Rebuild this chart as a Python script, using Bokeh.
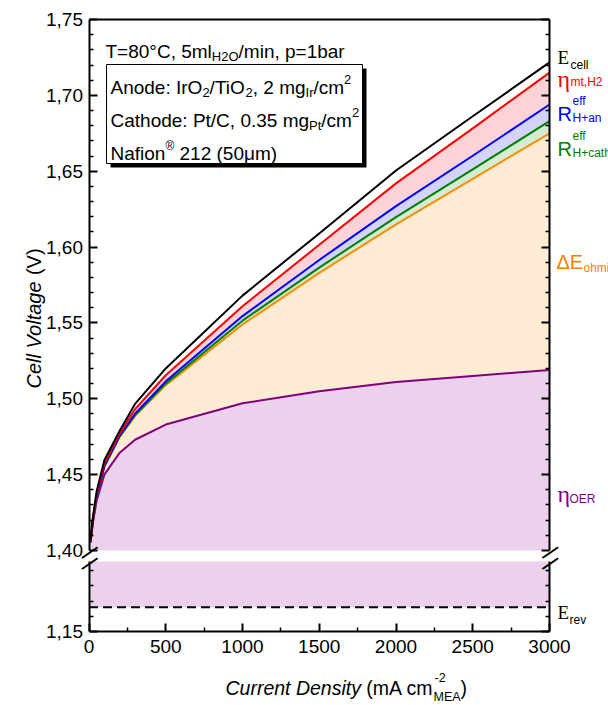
import math
from bokeh.plotting import figure
from bokeh.models import (Range1d, LinearAxis, FixedTicker, CustomJSTickFormatter,
                          Label, BoxAnnotation)
from bokeh.embed import file_html
from bokeh.resources import INLINE

# ---------------- data ----------------
current_density = [10, 25, 50, 100, 200, 300, 500, 1000, 1500, 2000, 2500, 3000]
v_oer    = [1.405, 1.418, 1.433, 1.450, 1.4645, 1.473, 1.483, 1.497, 1.505, 1.511, 1.515, 1.519]
v_ohmic  = [1.4055, 1.4193, 1.4356, 1.4552, 1.4749, 1.4886, 1.509, 1.549, 1.583, 1.615, 1.645, 1.675]
v_h_cath = [1.4055, 1.4193, 1.4357, 1.4554, 1.4752, 1.4892, 1.510, 1.5515, 1.5865, 1.6197, 1.6512, 1.683]
v_h_an   = [1.4055, 1.4194, 1.4359, 1.4557, 1.4757, 1.4901, 1.5115, 1.5545, 1.5915, 1.627, 1.6602, 1.694]
v_mt     = [1.406, 1.4204, 1.4374, 1.4575, 1.4772, 1.4931, 1.5155, 1.561, 1.6015, 1.642, 1.6782, 1.715]
v_cell   = [1.407, 1.4219, 1.4390, 1.4595, 1.4790, 1.4966, 1.520, 1.568, 1.609, 1.6505, 1.6862, 1.7217]
e_rev = 1.166

x_ticks = [0, 500, 1000, 1500, 2000, 2500, 3000]
x_minor = [250, 750, 1250, 1750, 2250, 2750]
y_ticks_top = [1.40, 1.45, 1.50, 1.55, 1.60, 1.65, 1.70, 1.75]
y_minor_top = [round(1.40 + 0.01 * i, 2) for i in range(36) if i % 5]
y_ticks_bot = [1.15]
y_minor_bot = [1.16, 1.17, 1.18, 1.19]

# ---------------- geometry (pixels of the page) ----------------
W, H = 608, 705
PX_L, PX_R = 88.5, 549.0          # x = 0 and x = 3000
PX_TOP, PX_BRK1 = 19.0, 550.0     # 1.75 and 1.40
PX_BRK2, PX_BOT = 561.0, 631.0    # upper end of lower segment and 1.15
X0, X1 = 0, 3000
Y1A, Y1B = 1.40, 1.75
Y2A = 1.15
VPP = (Y1B - Y1A) / (PX_BRK1 - PX_TOP)      # volts per pixel
Y2B = Y2A + (PX_BOT - PX_BRK2) * VPP        # top of lower segment

def xd(px):
    return X0 + (px - PX_L) / (PX_R - PX_L) * (X1 - X0)

def yt(py):
    return Y1B - (py - PX_TOP) * VPP

def yb(py):
    return Y2A + (PX_BOT - py) * VPP

FONT = "Liberation Sans"
SERIF = "Liberation Serif"
AR = {' ': 278, '(': 333, ')': 333, '+': 584, ',': 278, '-': 333, '.': 278, '/': 278,
      ':': 278, '=': 584, '°': 400, '®': 737, 'μ': 576, 'Δ': 668,
      'A': 667, 'C': 722, 'D': 722, 'E': 667, 'H': 722, 'I': 278, 'M': 833, 'N': 722,
      'O': 778, 'P': 667, 'R': 722, 'T': 611, 'V': 667,
      'a': 556, 'b': 556, 'c': 500, 'd': 556, 'e': 556, 'f': 278, 'g': 556, 'h': 556,
      'i': 222, 'l': 222, 'm': 833, 'n': 556, 'o': 556, 'p': 556, 'r': 333, 's': 500,
      't': 278, 'u': 556, 'v': 500, 'y': 500, 'k': 500}

def tw(s, size):
    return sum(AR.get(ch, 556) for ch in s) * size / 1000.0

p = figure(width=W, height=H, min_border=0, min_border_left=0, min_border_right=0,
           min_border_top=0, min_border_bottom=0,
           x_range=Range1d(xd(0), xd(W)), y_range=Range1d(yt(H), yt(0)),
           x_axis_type=None, y_axis_type=None, output_backend="svg",
           toolbar_location=None, outline_line_color=None,
           background_fill_color="white", border_fill_color="white")
p.extra_y_ranges = {"low": Range1d(yb(H), yb(0))}

def put(x, y, text, size, color="black", style="normal", font=FONT, angle=0.0,
        align="left", baseline="alphabetic"):
    # x, y in page pixels; leading blanks are turned into an advance (SVG drops them)
    stripped = text.lstrip(" ")
    adv = tw(text[:len(text) - len(stripped)], size)
    if angle == 0.0:
        x += adv
    else:
        y -= adv
    p.add_layout(Label(x=xd(x), y=yt(y), text=stripped, text_font=font,
                       text_font_size=f"{size}px", text_color=color,
                       text_font_style=style, text_baseline=baseline,
                       text_align=align, angle=angle))

def rich(x0, base, parts, color="black"):
    x = x0
    for txt, size, dy in parts:
        put(x, base + dy, txt, size, color)
        x += tw(txt, size)
    return x

def axis_style(ax, labels=True):
    ax.axis_line_width = 2
    ax.axis_line_color = "black"
    ax.major_tick_line_width = 2
    ax.minor_tick_line_width = 1.5
    ax.major_tick_in = 8
    ax.major_tick_out = 0
    ax.minor_tick_in = 4
    ax.minor_tick_out = 0
    ax.major_label_text_font = FONT
    ax.major_label_text_font_size = "19px"
    ax.major_label_text_color = "black"
    if not labels:
        ax.formatter = CustomJSTickFormatter(code="return '';")

comma_fmt = "return tick.toFixed(2).replace('.', ',');"

C_CELL, C_MT, C_AN, C_CATH, C_OHM, C_OER = "#000000", "#ff0000", "#0000ff", "#008000", "#ff8c00", "#800080"
F_MT, F_AN, F_CATH, F_OHM, F_OER = "#fdd3d7", "#d3d3fb", "#d3ecd3", "#fdebd3", "#ebd1eb"

n = len(current_density)
erev_line = [e_rev] * n
brk_hi = [Y1A] * n
brk_lo = [Y2B] * n

# ---------------- upper segment ----------------
p.varea(x=current_density, y1=brk_hi, y2=v_oer, fill_color=F_OER)
p.varea(x=current_density, y1=v_oer, y2=v_ohmic, fill_color=F_OHM)
p.varea(x=current_density, y1=v_ohmic, y2=v_h_cath, fill_color=F_CATH)
p.varea(x=current_density, y1=v_h_cath, y2=v_h_an, fill_color=F_AN)
p.varea(x=current_density, y1=v_h_an, y2=v_mt, fill_color=F_MT)
p.line(current_density, v_oer, line_color=C_OER, line_width=2)
p.line(current_density, v_ohmic, line_color=C_OHM, line_width=2)
p.line(current_density, v_h_cath, line_color=C_CATH, line_width=2)
p.line(current_density, v_h_an, line_color=C_AN, line_width=2)
p.line(current_density, v_mt, line_color=C_MT, line_width=2)
p.line(current_density, v_cell, line_color=C_CELL, line_width=2)

# ---------------- lower segment ----------------
p.varea(x=current_density, y1=erev_line, y2=brk_lo, fill_color=F_OER, y_range_name="low")
p.segment(x0=X0, y0=e_rev, x1=X1, y1=e_rev, line_color="black", line_width=2,
          line_dash="9 5", y_range_name="low")

# ---------------- axes ----------------
la = LinearAxis(ticker=FixedTicker(ticks=y_ticks_top, minor_ticks=y_minor_top),
                formatter=CustomJSTickFormatter(code=comma_fmt),
                fixed_location=X0, bounds=(Y1A, Y1B))
axis_style(la)
la.major_label_standoff = 6
p.add_layout(la, "left")

ra = LinearAxis(ticker=FixedTicker(ticks=y_ticks_top, minor_ticks=y_minor_top),
                fixed_location=X1, bounds=(Y1A, Y1B))
axis_style(ra, labels=False)
p.add_layout(ra, "right")

lb = LinearAxis(ticker=FixedTicker(ticks=y_ticks_bot, minor_ticks=y_minor_bot),
                formatter=CustomJSTickFormatter(code=comma_fmt),
                fixed_location=X0, bounds=(Y2A, Y2B), y_range_name="low")
axis_style(lb)
lb.major_label_standoff = 6
p.add_layout(lb, "left")

rb = LinearAxis(ticker=FixedTicker(ticks=y_ticks_bot, minor_ticks=y_minor_bot),
                fixed_location=X1, bounds=(Y2A, Y2B), y_range_name="low")
axis_style(rb, labels=False)
p.add_layout(rb, "right")

ta = LinearAxis(ticker=FixedTicker(ticks=[]), fixed_location=Y1B, bounds=(X0, X1))
axis_style(ta, labels=False)
ta.major_tick_line_color = None
ta.minor_tick_line_color = None
p.add_layout(ta, "above")

xb = LinearAxis(ticker=FixedTicker(ticks=x_ticks, minor_ticks=x_minor),
                fixed_location=Y2A, bounds=(X0, X1), y_range_name="low")
axis_style(xb)
xb.major_label_standoff = 8
p.add_layout(xb, "below")

# ---------------- annotation block ----------------
rich(105, 51, [("T=80°C, 5ml", 19, 0), ("H2O", 13, 5), ("/min, p=1bar", 19, 0)])
p.add_layout(BoxAnnotation(left=xd(110), right=xd(366), top=yt(68), bottom=yt(167),
                           fill_color="black", fill_alpha=1.0, line_color=None))
p.add_layout(BoxAnnotation(left=xd(106), right=xd(362), top=yt(64), bottom=yt(163),
                           fill_color="white", fill_alpha=1.0, line_color="black",
                           line_width=1, line_alpha=1.0))
rich(110, 87, [("Anode: IrO", 19, 0), ("2", 13, 5), ("/TiO", 19, 0), ("2", 13, 5),
               (", 2 mg", 19, 0), ("Ir", 13, 5), ("/cm", 19, 0), ("2", 13, -8)])
rich(110, 120, [("Cathode: Pt/C, 0.35 mg", 19, 0), ("Pt", 13, 5), ("/cm", 19, 0),
                ("2", 13, -8)])
rich(110, 153, [("Nafion", 19, 0), ("®", 12, -8), (" 212 (50μm)", 19, 0)])

# ---------------- right-side labels ----------------
put(557, 57, "E", 19, "black", font=SERIF)
put(570, 64, "cell", 12, "black")
put(557, 78, "η", 24, C_MT, font=SERIF)
put(570, 81, "mt,H2", 12, C_MT)
put(557, 113, "R", 20, C_AN)
put(572, 100, "eff", 12, C_AN)
put(572, 117, "H+an", 12, C_AN)
put(557, 148, "R", 20, C_CATH)
put(572, 135, "eff", 12, C_CATH)
put(572, 152, "H+cath", 12, C_CATH)
put(556, 261, "ΔE", 20, "#ff8000")
put(583, 267, "ohmic", 12, "#ff8000")
put(557, 493, "η", 24, C_OER, font=SERIF)
put(569, 498, "OER", 12, C_OER)
put(557, 612, "E", 19, "black", font=SERIF)
put(569, 619, "rev", 12, "black")

# ---------------- axis titles ----------------
put(33, 388, "Cell Voltage", 20, style="italic", angle=math.pi / 2)
put(33, 388 - tw("Cell Voltage", 20), " (V)", 20, angle=math.pi / 2)

xx = 225
put(xx, 687, "Current Density", 19.5, style="italic")
xx += tw("Current Density", 19.5)
put(xx, 687, " (mA cm", 19.5)
xx += tw(" (mA cm", 19.5)
put(xx + 1, 677, "-2", 12.5)
put(xx, 696, "MEA", 12.5)
xx += tw("MEA", 12.5)
put(xx, 687, ")", 19.5)

# ---------------- axis break marks ----------------
for bx in (PX_L, PX_R):
    for by in (PX_BRK1 + 1, PX_BRK2 + 1):
        put(bx, by, "—", 19, style="bold", angle=0.6, align="center", baseline="middle")

open("out.html", "w").write(file_html(p, INLINE))
